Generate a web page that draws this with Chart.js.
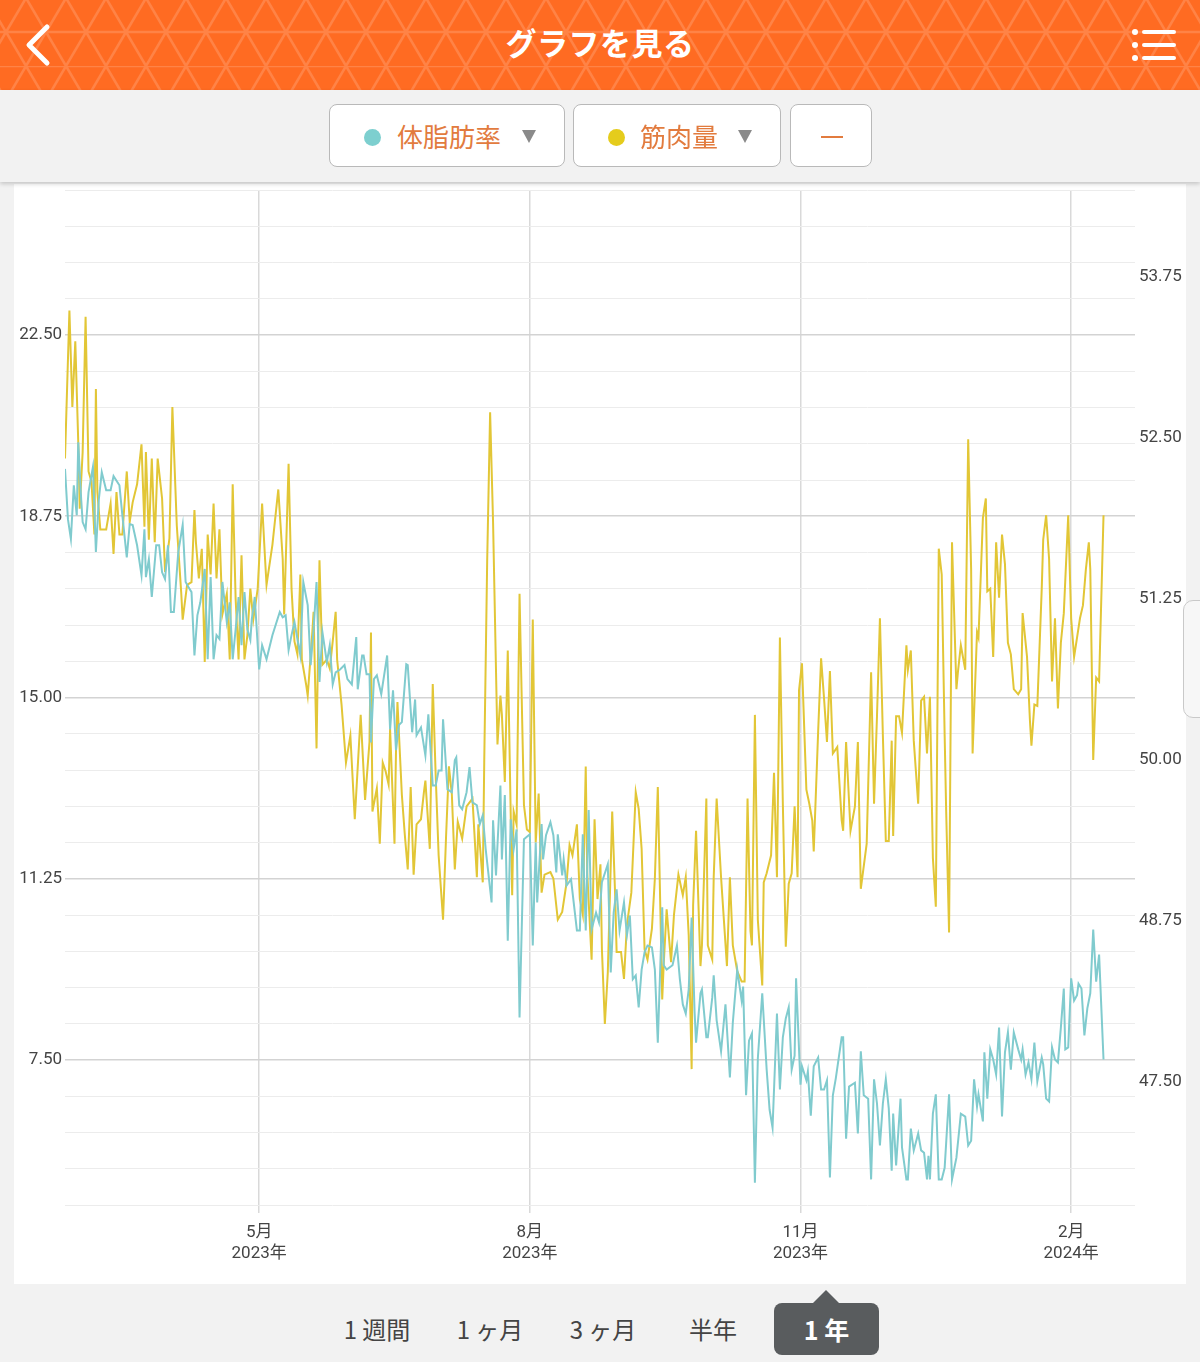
<!DOCTYPE html>
<html lang="ja">
<head>
<meta charset="utf-8">
<title>グラフを見る</title>
<script src="https://cdn.jsdelivr.net/npm/chart.js@4.4.0/dist/chart.umd.min.js"></script>
<style>
  html, body { margin: 0; padding: 0; }
  body {
    width: 1200px; height: 1362px; position: relative; overflow: hidden;
    background: #f2f2f2;
    font-family: Roboto, "Noto Sans CJK JP", "Noto Sans", sans-serif;
  }
  .header {
    position: absolute; left: 0; top: 0; width: 1200px; height: 90px;
    background-color: #ff6b22;
    background-image: url("data:image/svg+xml,%3Csvg xmlns='http://www.w3.org/2000/svg' width='40' height='68'%3E%3Cpath d='M0 34L20 0L40 34L20 68Z M0 0H40 M0 34H40' fill='none' stroke='%23ff8346' stroke-width='2.5'/%3E%3C/svg%3E");
    background-position: 6px -2px;
  }
  .title {
    position: absolute; left: 0; top: 20px; width: 1200px; text-align: center;
    color: #fff; font-family: "Noto Sans CJK JP", sans-serif; font-weight: 700;
    font-size: 31px; line-height: 44px; letter-spacing: 0.5px;
  }
  .bar {
    position: absolute; left: 0; top: 90px; width: 1200px; height: 92px;
    background: #f2f2f2; box-shadow: 0 2px 4px rgba(0,0,0,0.18); z-index: 2;
  }
  .btn {
    position: absolute; top: 14px; height: 63px; background: #fff;
    border: 1px solid #b9b9b9; border-radius: 8px; box-sizing: border-box;
  }
  .dot { position: absolute; top: 24px; width: 17px; height: 17px; border-radius: 50%; }
  .lbl {
    position: absolute; top: 10px; line-height: 42px; font-size: 26px;
    color: #e27b3e; font-family: "Noto Sans CJK JP", sans-serif;
  }
  .tri {
    position: absolute; top: 25px; width: 0; height: 0;
    border-left: 7px solid transparent; border-right: 7px solid transparent;
    border-top: 13px solid #8a8a8a;
  }
  .card {
    position: absolute; left: 14px; top: 184px; width: 1172px; height: 1100px;
    background: #fff;
  }
  .handle {
    position: absolute; left: 1183px; top: 600px; width: 30px; height: 116px;
    border: 1px solid #c9c9c9; border-radius: 10px; background: #f7f7f7;
  }
  .tab {
    position: absolute; top: 1309px; width: 120px; text-align: center;
    font-size: 24px; line-height: 40px; color: #444;
    font-family: "Noto Sans CJK JP", sans-serif;
  }
  .sel {
    position: absolute; left: 774px; top: 1303px; width: 105px; height: 52px;
    background: #595c5e; border-radius: 8px; color: #fff; text-align: center;
    font-size: 25px; line-height: 52px; font-weight: 700;
    font-family: "Noto Sans CJK JP", sans-serif;
  }
  .pointer {
    position: absolute; left: 812px; top: 1290px; width: 0; height: 0;
    border-left: 14px solid transparent; border-right: 14px solid transparent;
    border-bottom: 14px solid #595c5e;
  }
</style>
</head>
<body>
<div class="header">
  <svg style="position:absolute;left:20px;top:20px" width="40" height="50">
    <polyline points="27,7 9,25 27,43" fill="none" stroke="#fff" stroke-width="5" stroke-linecap="round" stroke-linejoin="round"/>
  </svg>
  <div class="title">グラフを見る</div>
  <svg style="position:absolute;left:1128px;top:26px" width="50" height="38">
    <circle cx="7" cy="6" r="3" fill="#fff"/><circle cx="7" cy="19" r="3" fill="#fff"/><circle cx="7" cy="32" r="3" fill="#fff"/>
    <line x1="16" y1="6" x2="46" y2="6" stroke="#fff" stroke-width="4" stroke-linecap="round"/>
    <line x1="16" y1="19" x2="46" y2="19" stroke="#fff" stroke-width="4" stroke-linecap="round"/>
    <line x1="16" y1="32" x2="46" y2="32" stroke="#fff" stroke-width="4" stroke-linecap="round"/>
  </svg>
</div>

<div class="bar">
  <div class="btn" style="left:329px;width:236px">
    <div class="dot" style="left:34px;background:#7dcfcf"></div>
    <div class="lbl" style="left:67px">体脂肪率</div>
    <div class="tri" style="left:192px"></div>
  </div>
  <div class="btn" style="left:573px;width:208px">
    <div class="dot" style="left:34px;background:#e5cc1c"></div>
    <div class="lbl" style="left:66px">筋肉量</div>
    <div class="tri" style="left:164px"></div>
  </div>
  <div class="btn" style="left:790px;width:82px">
    <div style="position:absolute;left:30px;top:31px;width:22px;height:2px;background:#e27b3e"></div>
  </div>
</div>

<div class="card"><canvas id="canvas"></canvas></div>
<div class="handle"></div>

<div class="tab" style="left:317px">1 週間</div>
<div class="tab" style="left:430px">1 ヶ月</div>
<div class="tab" style="left:543px">3 ヶ月</div>
<div class="tab" style="left:653px">半年</div>
<div class="pointer"></div>
<div class="sel">1 年</div>

<script>
// days counted from 2023-02-24
const startDate = Date.UTC(2023, 1, 24);
const rangeDays = 363.7;

const tickYears = [2023, 2023, 2023, 2024];
const tickMonths = [5, 8, 11, 2];

const fatTicks = [7.5, 11.25, 15, 18.75, 22.5];
const fatMin = 4.5, fatMax = 25.5, fatStep = 0.75;
const muscleTicks = [47.5, 48.75, 50, 51.25, 52.5, 53.75];
const muscleMin = 46.545, muscleMax = 54.425;

// 体脂肪率 [day, %]
const fatSeries = [
  [0,19.73],[1,18.69],[2,18.28],[3,19.39],[4,18.77],[4.5,20.28],[5.5,19.10],[6,18.63],[7,18.48],[8,19.25],
  [9.5,19.77],[10.5,18.01],[11.5,19.10],[12.5,19.66],[14,19.29],[15.5,19.29],[16.5,19.58],[18.5,19.39],[19.5,18.77],[21,17.90],
  [22,18.59],[23,18.57],[24.5,18.15],[26,17.53],[27,18.48],[27.5,17.49],[28.5,17.86],[29.5,17.08],[31,18.15],[32,18.15],
  [33,17.59],[34,17.45],[35,18.15],[36,16.77],[37,16.77],[38.5,18.01],[40,18.57],[41,17.39],[42,17.28],[43,17.18],
  [44,15.87],[45,16.70],[46,16.97],[47.5,17.66],[48.5,15.79],[49.5,17.49],[50.5,15.79],[51.5,16.29],[52.5,16.21],[53.5,17.39],
  [55,16.56],[56,16.97],[57,15.79],[58,16.41],[59,17.08],[60,16.08],[61,17.18],[62,16.41],[63,16.19],[63.5,16.62],
  [64.5,17.08],[66,15.58],[67,16.08],[68.5,15.79],[70.5,16.29],[73,16.77],[74,16.66],[75,16.70],[76,15.98],[77,16.29],
  [78,16.56],[79,16.21],[80,15.87],[81,17.39],[82.5,16.91],[83.5,15.67],[84.5,16.41],[85.5,17.39],[86.5,15.32],[87.5,16.35],
  [89,15.73],[90,16.08],[91,15.27],[92,15.52],[93.5,15.58],[95,15.67],[96,15.38],[97.5,15.27],[99,16.25],[99.5,15.17],
  [101,15.87],[101.5,15.87],[102.5,15.48],[103.5,15.48],[104,14.07],[105,15.38],[106,15.46],[107.5,15.07],[109.5,15.87],[110.5,14.34],
  [111.5,15.15],[112.5,13.91],[113.5,14.43],[114.5,14.49],[116,15.69],[116.5,15.67],[118,14.28],[119,14.96],[119.5,14.22],[121,14.38],
  [122.5,13.80],[123.5,14.65],[125,13.18],[126,13.18],[127,13.49],[128,13.49],[128.5,14.55],[130,13.10],[131.5,13.04],[132.5,13.70],
  [133,13.76],[134,12.77],[135,12.69],[136.5,13.04],[137.5,13.56],[138.5,12.83],[140,12.77],[141,12.38],[142,12.56],[143,11.86],
  [145,10.76],[145.5,12.46],[146.5,11.32],[148,13.18],[148.5,11.65],[149.5,12.98],[150.5,9.97],[151.5,12.48],[152.5,11.86],[153.5,12.27],
  [154.5,8.38],[156,12.07],[158,12.17],[159,9.87],[160,12.00],[160.5,10.76],[162,12.38],[162.5,11.65],[163.5,12.15],[165,12.42],
  [166,12.15],[167,11.38],[167.5,12.17],[169,11.32],[169.5,11.65],[170.5,11.11],[172,11.24],[174,10.18],[175,10.18],[176,12.17],
  [177,10.18],[178,12.67],[179,10.20],[180.5,10.55],[181.5,10.35],[182.5,11.18],[184.5,11.55],[185.5,9.31],[186.5,10.55],[187.5,11.03],
  [188.5,10.18],[190,10.76],[191,10.08],[192,10.49],[193,9.17],[194,9.25],[195,8.59],[196,9.37],[197,9.73],[198,9.87],
  [199.5,9.83],[200.5,9.37],[201.5,7.86],[203,10.66],[203.5,9.46],[204.5,9.37],[206.5,9.46],[208,9.87],[209,9.17],[210,8.65],
  [211,8.46],[212,8.96],[213,10.45],[214,8.50],[214.5,7.86],[216,8.88],[216.5,8.96],[218,7.97],[218.5,7.97],[220,8.79],
  [220.5,9.25],[221.5,8.32],[223,7.68],[224.5,8.65],[226,7.14],[227,8.28],[228.5,9.37],[230,8.73],[230.5,9.02],[231.5,6.77],
  [232.5,7.90],[233.5,8.05],[234.5,4.96],[235.5,7.53],[237,8.88],[238.5,7.30],[239.5,6.47],[240.5,6.10],[242,8.46],[243,6.89],
  [244,7.97],[245,8.36],[246,8.59],[247,7.30],[248,7.59],[248.5,9.19],[250,6.99],[250.5,7.37],[252,7.08],[252.5,7.26],
  [253.5,6.35],[254.5,7.37],[256,7.55],[257,6.89],[258,6.89],[259,7.08],[260,5.07],[261,6.77],[262,7.12],[264,7.97],
  [264.5,7.97],[265.5,5.87],[266.5,6.95],[268.5,7.03],[269.5,5.98],[270.5,7.68],[271.5,6.77],[273,6.70],[274,5.03],[275,7.10],
  [276,6.60],[277,5.73],[278,6.60],[279,7.10],[280,6.50],[281,5.21],[281.5,6.39],[282.5,5.32],[284,6.70],[284.5,5.69],
  [286,5.03],[286.5,5.03],[287.5,6.08],[288.5,5.63],[290,5.98],[291,5.63],[292,5.58],[293,5.03],[293.5,5.52],[294,5.03],
  [295,6.39],[296,6.79],[297,5.03],[298,5.03],[299,5.27],[299.5,5.77],[300.5,6.79],[301.5,5.03],[303,5.48],[304,6.08],
  [304.5,6.39],[306,6.33],[307,5.73],[308,5.83],[309,7.10],[310,6.54],[310.5,6.79],[312,6.23],[312.5,7.66],[313.5,6.70],
  [314.5,7.72],[315.5,7.51],[316.5,7.20],[317.5,8.17],[318.5,6.33],[319.5,7.66],[320.5,8.07],[321.5,7.30],[322.5,8.07],[324,7.72],
  [325,7.51],[325.5,7.72],[326.5,7.20],[327.5,7.45],[328.5,7.10],[329.5,7.86],[330.5,7.06],[332,7.55],[332.5,7.41],[333.5,6.70],
  [334.5,6.64],[335.5,7.76],[336.5,7.51],[337.5,7.45],[338.5,8.17],[339.5,8.98],[340,7.72],[341,7.76],[342,9.19],[343,8.73],
  [344,8.84],[344.5,9.08],[345.5,8.98],[346.5,8.01],[347.5,8.57],[348.5,8.88],[349.5,10.20],[350.5,9.12],[351.5,9.68],[353,7.51]
];

// 筋肉量 [day, kg]
const muscleSeries = [
  [0,52.34],[1.5,53.49],[2.5,52.74],[3.5,53.25],[4.5,52.47],[5,51.95],[6,52.39],[7,53.44],[8,52.24],[9,52.16],
  [10,51.75],[10.5,52.88],[11,52.08],[12,51.79],[14,51.79],[15.5,51.99],[16.5,51.60],[17.5,52.08],[18.5,51.75],[19.5,51.75],
  [21,52.24],[22,51.85],[23,52.00],[24.5,52.14],[26,52.45],[27,51.81],[27.5,52.39],[28.5,51.71],[29.5,52.34],[30.5,51.69],
  [31.5,52.34],[33,52.03],[34,51.46],[35.5,51.72],[36.5,52.74],[38,51.82],[39.5,51.30],[40,51.09],[41.5,51.36],[43,51.38],
  [44,51.94],[44.5,51.69],[45.5,51.41],[46.5,51.64],[47.5,50.76],[48.5,51.75],[49.5,51.44],[50.5,51.99],[51.5,51.41],[52.5,51.79],
  [53.5,51.13],[55,51.29],[56,50.78],[57,52.14],[58,51.25],[59,50.78],[60,51.59],[61,50.78],[62,50.97],[63,51.33],
  [64,51.09],[65.5,51.33],[67,51.99],[68,51.56],[68.5,51.36],[70.5,51.67],[72.5,52.10],[74,51.56],[74.5,51.13],[76,52.30],
  [77,51.33],[78,50.92],[79,50.82],[80,51.44],[80.5,50.78],[82,50.58],[82.5,50.50],[84,50.97],[84.5,51.15],[85.5,50.09],
  [86.5,51.55],[87.5,50.74],[89,50.78],[90,50.71],[91,50.92],[92,51.15],[92.5,50.78],[94,50.43],[95.5,49.98],[97,50.19],
  [98.5,49.54],[100.5,50.35],[102,49.69],[103.5,50.14],[104,50.99],[104.5,49.60],[106,49.78],[107,49.35],[108,49.98],[109,49.91],
  [110,49.81],[110.5,50.24],[112,49.35],[112.5,50.06],[113,50.45],[114.5,49.73],[115.5,49.42],[116.5,49.15],[117.5,49.79],[118.5,49.11],
  [119.5,49.50],[121,49.54],[122,49.75],[122.5,49.84],[124,49.31],[125,50.59],[126,49.88],[127,49.26],[128.5,48.76],[129.5,49.39],
  [130.5,49.95],[131.5,49.73],[132.5,49.15],[133.5,49.52],[135,49.39],[136.5,49.64],[138.5,49.70],[140,49.09],[140.5,49.50],[142,49.05],
  [142.5,49.98],[143.5,51.54],[144.5,52.70],[145.5,51.85],[147,50.12],[148,50.50],[148.5,50.35],[149.5,49.83],[150.5,50.85],[152,48.95],
  [152.5,49.60],[153.5,49.50],[154.5,51.29],[156,49.65],[157,49.46],[158,49.44],[159,51.09],[160,49.36],[161,49.74],[162,48.97],
  [163,49.11],[165,49.13],[166,49.08],[167.5,48.76],[169,48.82],[170.5,49.05],[171.5,49.34],[172.5,49.26],[174,49.50],[175,48.92],
  [176,48.80],[177,49.95],[177.5,49.13],[179,48.45],[180,49.54],[181,48.92],[182,49.19],[182.5,48.53],[183.5,47.95],[184.5,48.35],
  [186,49.60],[187,48.95],[187.5,48.51],[189,48.51],[190,48.30],[191,48.72],[192.5,48.97],[194,49.75],[195,49.62],[196,49.31],
  [197,48.53],[198,48.45],[199.5,48.69],[200.5,49.08],[201.5,49.79],[203,48.14],[203.5,48.41],[204.5,48.84],[206,48.43],[207,48.80],
  [208.5,49.11],[210,48.95],[211,49.09],[212,48.64],[213,47.60],[213.5,48.87],[214.5,49.45],[216,48.40],[216.5,48.56],[218,49.70],
  [218.5,48.56],[220,48.45],[220.5,49.09],[221.5,49.70],[223,49.09],[225,48.40],[226,49.09],[227,48.56],[228.5,48.36],[230,48.28],
  [231,48.28],[232,49.70],[233,48.67],[233.5,48.56],[234.5,50.35],[235.5,48.76],[237,48.25],[237.5,49.05],[238.5,49.12],[240,49.26],
  [241,49.90],[242,49.09],[243,50.95],[244,49.66],[245,48.55],[246,49.04],[247,49.12],[248,49.64],[249,49.09],[249.5,50.54],
  [250.5,50.75],[252,49.77],[253,49.66],[254,49.53],[254.5,49.29],[256,50.22],[257,50.79],[258,50.48],[259,50.14],[260,50.69],
  [261,50.05],[262.5,50.10],[264,49.53],[264.5,49.45],[265.5,50.14],[267,49.45],[268.5,49.64],[269.5,50.14],[270.5,49.00],[272.5,49.35],
  [274,50.68],[275,49.66],[276,50.34],[277,51.10],[278,50.19],[279,49.37],[280,49.37],[281,50.15],[281.5,49.41],[282.5,50.34],
  [283.5,50.34],[284.5,50.21],[286,50.89],[286.5,50.70],[287.5,50.85],[288.5,50.15],[290,49.66],[291,50.46],[292,50.49],[293,50.05],
  [294,50.49],[295,49.24],[296,48.86],[297,51.64],[298,51.44],[299,50.19],[299.5,49.62],[300.5,48.66],[301.5,51.69],[303,50.55],
  [303.5,50.68],[304.5,50.89],[306,50.70],[307,52.49],[308,51.48],[308.5,50.05],[310,50.99],[310.5,50.95],[312,51.88],[313,52.03],
  [313.5,51.31],[314.5,51.33],[315.5,50.80],[316.5,51.69],[317.5,51.26],[318.5,51.75],[319.5,51.52],[320.5,50.91],[321.5,50.82],[322.5,50.55],
  [324,50.51],[325,50.55],[325.5,51.14],[327,50.80],[328,50.30],[328.5,50.11],[329.5,50.43],[330.5,50.42],[332,51.33],[332.5,51.71],
  [333.5,51.90],[334.5,51.56],[335.5,50.61],[336.5,51.10],[337.5,50.40],[338.5,50.91],[339.5,51.14],[341,51.90],[342,51.10],[343,50.80],
  [344,50.95],[345,51.10],[346,51.20],[347,51.48],[348,51.69],[348.5,51.48],[349.5,50.00],[350.5,50.64],[351.5,50.61],[353,51.90]
];

const tickDays = tickYears.map((y, i) => (Date.UTC(y, tickMonths[i] - 1, 1) - startDate) / 86400000);
const fatGrid = [];
for (let v = fatMin; v <= fatMax + 1e-9; v += fatStep) fatGrid.push(v);

const axisFont = { family: "Roboto, 'Noto Sans CJK JP', sans-serif", size: 17, lineHeight: 1.25 };
const axisColor = "#444444";
const toPoints = s => s.map(p => ({ x: p[0], y: p[1] }));

const ctx = document.getElementById("canvas").getContext("2d");

new Chart(ctx, {
  type: "line",
  data: {
    datasets: [
      {
        label: "体脂肪率",
        data: toPoints(fatSeries),
        yAxisID: "yFat",
        borderColor: "#80cbce",
        borderWidth: 2,
        pointRadius: 0,
        tension: 0
      },
      {
        label: "筋肉量",
        data: toPoints(muscleSeries),
        yAxisID: "yMuscle",
        borderColor: "#e2c636",
        borderWidth: 2,
        pointRadius: 0,
        tension: 0
      }
    ]
  },
  options: {
    responsive: true,
    maintainAspectRatio: false,
    animation: false,
    layout: { padding: { top: 6, left: 0, right: 0, bottom: 0 } },
    plugins: { legend: { display: false }, tooltip: { enabled: false } },
    scales: {
      x: {
        type: "linear",
        min: 0,
        max: rangeDays,
        afterBuildTicks: s => { s.ticks = tickDays.map(v => ({ value: v })); },
        afterFit: s => { s.height = 79; s.paddingLeft = 0; s.paddingRight = 0; },
        border: { display: false },
        grid: { color: "#d9d9d9", lineWidth: 1.5, drawTicks: true, tickLength: 8 },
        ticks: {
          autoSkip: false, maxRotation: 0, padding: 9, color: axisColor, font: axisFont,
          callback: (v, i) => [tickMonths[i] + "月", tickYears[i] + "年"]
        }
      },
      yFat: {
        position: "left",
        min: fatMin,
        max: fatMax,
        afterBuildTicks: s => { s.ticks = fatGrid.map(v => ({ value: v })); },
        afterFit: s => { s.width = 51; s.paddingTop = 0; s.paddingBottom = 0; },
        border: { display: false },
        grid: {
          drawTicks: false,
          color: c => fatTicks.includes(c.tick.value) ? "#d3d3d3" : "#ececec",
          lineWidth: c => fatTicks.includes(c.tick.value) ? 1.5 : 1
        },
        ticks: {
          autoSkip: false, padding: 3, color: axisColor, font: axisFont,
          callback: v => fatTicks.includes(v) ? v.toFixed(2) : ""
        }
      },
      yMuscle: {
        position: "right",
        min: muscleMin,
        max: muscleMax,
        afterBuildTicks: s => { s.ticks = muscleTicks.map(v => ({ value: v })); },
        afterFit: s => { s.width = 51; s.paddingTop = 0; s.paddingBottom = 0; },
        border: { display: false },
        grid: { display: false, drawTicks: false },
        ticks: {
          autoSkip: false, padding: 4, color: axisColor, font: axisFont,
          callback: v => v.toFixed(2)
        }
      }
    }
  }
});
</script>
</body>
</html>
